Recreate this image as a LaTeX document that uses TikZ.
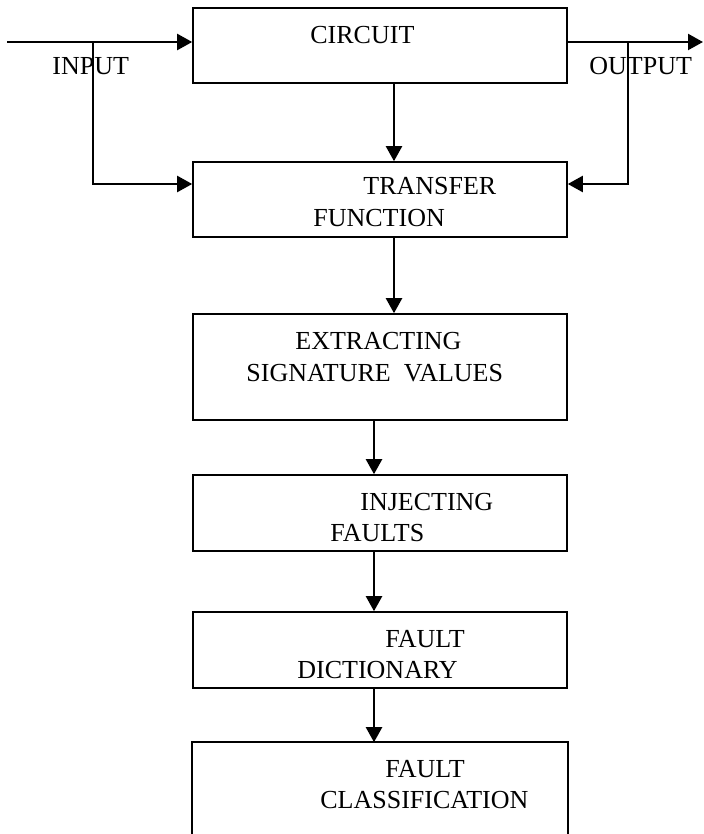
\documentclass[tikz,border=0pt]{standalone}
\usepackage{fontspec}
\setmainfont{Liberation Serif}
\usepackage{tikz}
\usetikzlibrary{arrows.meta,positioning,calc}

\tikzset{
  blk/.style={draw, line width=0.8pt, minimum width=187pt, inner sep=0pt},
  lbl/.style={anchor=base west, inner sep=0pt, font=\fontsize{13}{15}\selectfont},
  arr/.style={line width=1.1pt, -{Triangle[length=7.5pt,width=8pt]}}
}

\begin{document}
\begin{tikzpicture}[x=0.5pt,y=-0.5pt]
\useasboundingbox (0,0) rectangle (703,834);
% blocks
\node[blk, minimum height=37.5pt] (circuit) at (380,45.5) {};
\node[blk, minimum height=37.5pt] (transfer) at (380,199.5) {};
\node[blk, minimum height=53pt] (extract) at (380,367) {};
\node[blk, minimum height=38pt] (inject) at (380,513) {};
\node[blk, minimum height=38pt] (dict) at (380,650) {};
\node[blk, draw=none, minimum height=45.5pt] (classify) at (380,788.5) {};
\draw[line width=0.8pt] (classify.south west) -- (classify.north west)
  -- (classify.north east) -- (classify.south east);
% texts
\node[lbl] (tcircuit) at (310,44) {CIRCUIT};
\node[lbl] (tinput) at (52,75) {INPUT};
\node[lbl] (toutput) at (589,75) {OUTPUT};
\node[lbl] (ttransfer) at (363,195) {TRANSFER};
\node[lbl] (tfunction) at (313,227) {FUNCTION};
\node[lbl] (textract) at (295,349) {EXTRACTING};
\node[lbl] (tsignature) at (246,381) {SIGNATURE~~VALUES};
\node[lbl] (tinject) at (360,510) {INJECTING};
\node[lbl] (tfaults) at (330,541) {FAULTS};
\node[lbl] (tfaulta) at (385,647) {FAULT};
\node[lbl] (tdict) at (297,678) {DICTIONARY};
\node[lbl] (tfaultb) at (385,777) {FAULT};
\node[lbl] (tclassify) at (320,808) {CLASSIFICATION};
% connectors
\coordinate (in) at (7,42);
\coordinate (inbr) at (93,42);
\coordinate (out) at (703,42);
\coordinate (outbr) at (628,42);
\draw[arr] (in) -- (in -| circuit.west);
\draw[arr] (inbr) |- ([yshift=7.75pt]transfer.west);
\draw[arr] (out -| circuit.east) -- (out);
\draw[arr] (outbr) |- ([yshift=7.75pt]transfer.east);
\foreach \a/\b in {circuit/transfer, transfer/extract}
  \draw[arr] ([xshift=7pt]\a.south) -- ([xshift=7pt]\b.north);
\foreach \a/\b in {extract/inject, inject/dict, dict/classify}
  \draw[arr] ([xshift=-3pt]\a.south) -- ([xshift=-3pt]\b.north);
\end{tikzpicture}
\end{document}
